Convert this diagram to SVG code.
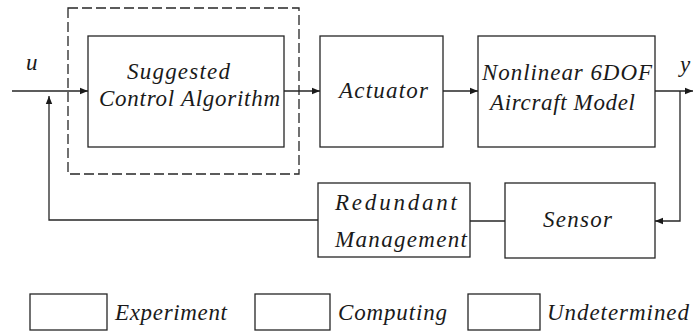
<svg xmlns="http://www.w3.org/2000/svg" width="693" height="333" viewBox="0 0 693 333">
  <style>
    .box { fill: #ffffff; stroke: #262626; stroke-width: 1.3; }
    .frame { fill: none; stroke: #262626; stroke-width: 1.3; stroke-dasharray: 10 4; }
    .wire { fill: none; stroke: #262626; stroke-width: 1.3; }
    .lbl { font-family: "Liberation Serif", "Times New Roman", serif; font-style: italic; font-size: 23px; fill: #1a1a1a; }
  </style>
  <defs>
    <marker id="arrow" viewBox="0 0 10 10" refX="10" refY="5" markerWidth="8" markerHeight="8" markerUnits="userSpaceOnUse" orient="auto">
      <path d="M0,1 L10,5 L0,9 z" fill="#1a1a1a"/>
    </marker>
  </defs>
  <rect width="693" height="333" fill="#ffffff"/>

  <!-- dashed frame around the controller -->
  <rect id="controller-frame" class="frame" x="68" y="8" width="231" height="166"/>

  <g id="controller">
    <rect class="box" x="88" y="36" width="196" height="111"/>
    <text class="lbl" x="127" y="79" textLength="103" lengthAdjust="spacing">Suggested</text>
    <text class="lbl" x="99" y="106" textLength="181" lengthAdjust="spacing">Control Algorithm</text>
  </g>

  <g id="actuator">
    <rect class="box" x="320" y="36" width="123" height="111"/>
    <text class="lbl" x="339" y="98" textLength="89" lengthAdjust="spacing">Actuator</text>
  </g>

  <g id="aircraft">
    <rect class="box" x="478" y="36" width="177" height="111"/>
    <text class="lbl" x="482" y="80" textLength="170" lengthAdjust="spacing">Nonlinear 6DOF</text>
    <text class="lbl" x="490" y="110" textLength="145" lengthAdjust="spacing">Aircraft Model</text>
  </g>

  <g id="redundancy">
    <rect class="box" x="318" y="183" width="152" height="74"/>
    <text class="lbl" x="335" y="210" textLength="122" lengthAdjust="spacing">Redundant</text>
    <text class="lbl" x="335" y="247" textLength="132" lengthAdjust="spacing">Management</text>
  </g>

  <g id="sensor">
    <rect class="box" x="505" y="183" width="150" height="75"/>
    <text class="lbl" x="543" y="227" textLength="69" lengthAdjust="spacing">Sensor</text>
  </g>

  <!-- signal labels -->
  <text class="lbl" x="26" y="70">u</text>
  <text class="lbl" x="680" y="72">y</text>

  <g id="connectors">
    <line class="wire" x1="12" y1="91" x2="88" y2="91" marker-end="url(#arrow)"/>
    <line class="wire" x1="284" y1="91" x2="320" y2="91" marker-end="url(#arrow)"/>
    <line class="wire" x1="443" y1="91" x2="478" y2="91" marker-end="url(#arrow)"/>
    <line class="wire" x1="655" y1="91" x2="693" y2="91" marker-end="url(#arrow)"/>
    <polyline class="wire" points="680,91 680,221 655,221" marker-end="url(#arrow)"/>
    <line class="wire" x1="505" y1="221" x2="470" y2="221"/>
    <polyline class="wire" points="318,220 49,220 49,96" marker-end="url(#arrow)"/>
  </g>

  <g id="legend">
    <rect class="box" x="30" y="294" width="77" height="36"/>
    <text class="lbl" x="115" y="320" textLength="112" lengthAdjust="spacing">Experiment</text>
    <rect class="box" x="255" y="294" width="75" height="36"/>
    <text class="lbl" x="338" y="320" textLength="109" lengthAdjust="spacing">Computing</text>
    <rect class="box" x="468" y="294" width="72" height="36"/>
    <text class="lbl" x="547" y="320" textLength="142" lengthAdjust="spacing">Undetermined</text>
  </g>
</svg>
